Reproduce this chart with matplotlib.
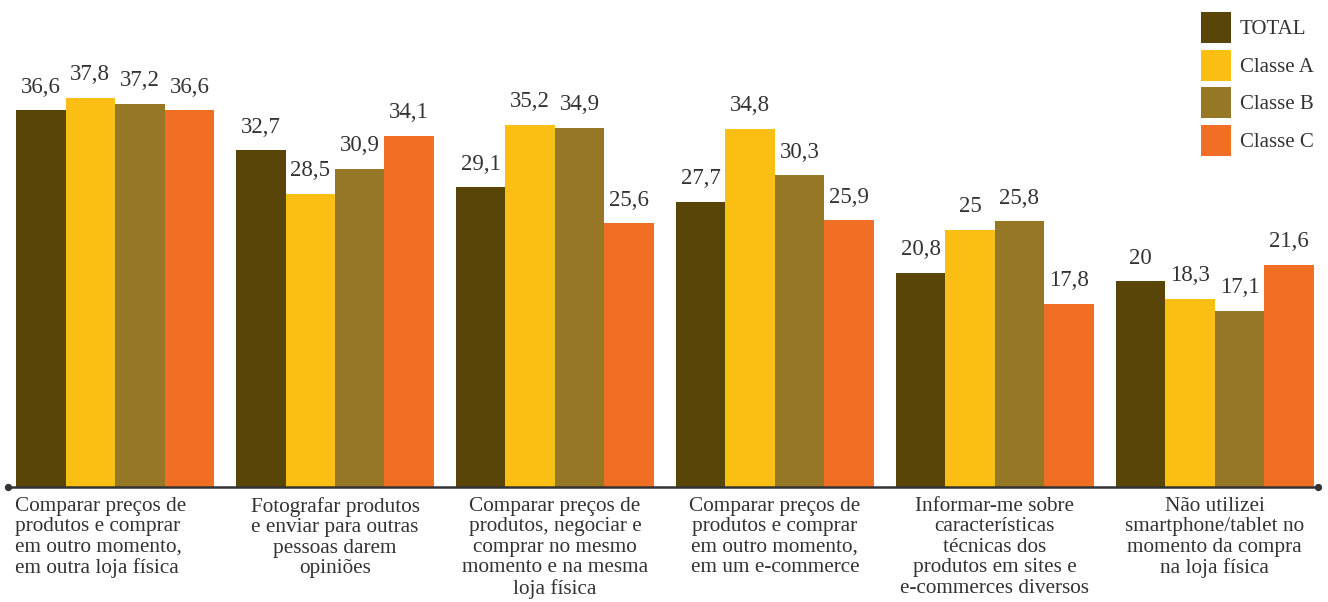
import matplotlib
matplotlib.use('Agg')
import matplotlib.pyplot as plt
import matplotlib.transforms as mtransforms
import numpy as np

categorias = [
    "Comparar preços de\nprodutos e comprar\nem outro momento,\nem outra loja física",
    "Fotografar produtos\ne enviar para outras\npessoas darem\nopiniões",
    "Comparar preços de\nprodutos, negociar e\ncomprar no mesmo\nmomento e na mesma\nloja física",
    "Comparar preços de\nprodutos e comprar\nem outro momento,\nem um e-commerce",
    "Informar-me sobre\ncaracterísticas\ntécnicas dos\nprodutos em sites e\ne-commerces diversos",
    "Não utilizei\nsmartphone/tablet no\nmomento da compra\nna loja física",
]
series = ["TOTAL", "Classe A", "Classe B", "Classe C"]
total = [36.6, 32.7, 29.1, 27.7, 20.8, 20]
classeA = [37.8, 28.5, 35.2, 34.8, 25, 18.3]
classeB = [37.2, 30.9, 34.9, 30.3, 25.8, 17.1]
classeC = [36.6, 34.1, 25.6, 25.9, 17.8, 21.6]
valores = [total, classeA, classeB, classeC]

cores = ['#5a4508', '#fbbf14', '#957726', '#f06f24']
corTexto = '#333333'
fonte = 'Liberation Serif'

fig = plt.figure(figsize=(13.28, 6.02), dpi=100)
ax = fig.add_axes([8/1328, 1 - 487/602, 1310/1328, 487/602])

x = np.arange(len(categorias))
largura = 0.225

def fmt(v):
    s = ('%.1f' % v).replace('.', ',')
    return s[:-2] if s.endswith(',0') else s

for i, (vals, cor) in enumerate(zip(valores, cores)):
    pos = x + (i - 1.5) * largura
    ax.bar(pos, vals, width=largura, color=cor, label=series[i])
    for p, v in zip(pos, vals):
        ax.annotate(fmt(v), (p, v), xytext=(0, 9), textcoords='offset points',
                    ha='center', va='bottom', fontsize=16.5, family=fonte,
                    color=corTexto)

ax.set_xlim(-0.487, 5.47)
ax.set_ylim(0, 47.3)
ax.axis('off')

# linha de base com pontos nas pontas
ax.plot([-0.487, 5.47], [0, 0], color=corTexto, lw=1.8, clip_on=False)
ax.scatter([-0.487, 5.47], [0, 0], s=18, color=corTexto, clip_on=False, zorder=5)

# rotulos das categorias
trans = mtransforms.blended_transform_factory(ax.transData, ax.transAxes)
deslocamento = mtransforms.ScaledTranslation(0, -10/100, fig.dpi_scale_trans)
for i, cat in enumerate(categorias):
    if i == 0:
        ax.text(x[i] - 2 * largura - 0.005, 0, cat, transform=trans + deslocamento,
                ha='left', va='top', fontsize=15.3, family=fonte, color=corTexto,
                linespacing=1.1)
    else:
        ax.text(x[i], 0, cat, transform=trans + deslocamento, ha='center', va='top',
                fontsize=15.3, family=fonte, color=corTexto, linespacing=1.1,
                multialignment='center')

leg = fig.legend(loc='upper left', bbox_to_anchor=(1193/1328, 1 - 4/602),
                 frameon=False, prop={'family': fonte, 'size': 15},
                 handlelength=1.4, handleheight=1.9, handletextpad=0.45,
                 labelspacing=0.32, borderaxespad=0)
for t in leg.get_texts():
    t.set_color(corTexto)

fig.savefig('out.png', dpi=100)
